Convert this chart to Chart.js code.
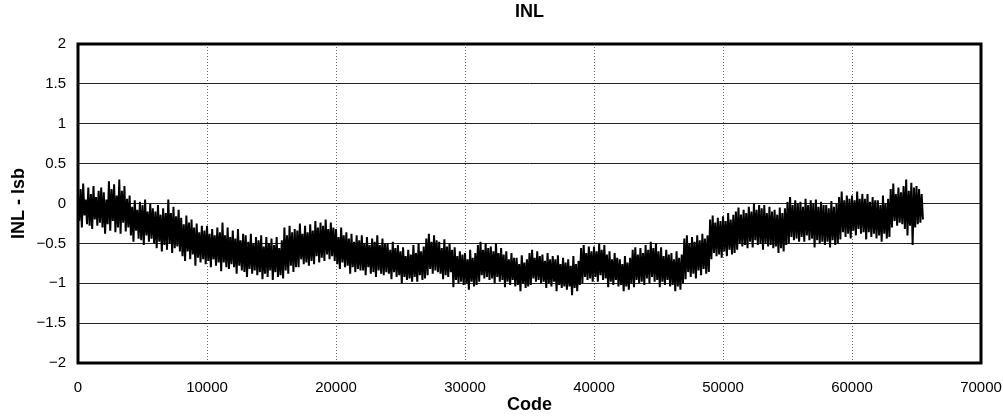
<!DOCTYPE html>
<html>
<head>
<meta charset="utf-8">
<script src="https://cdn.jsdelivr.net/npm/chart.js@4"></script>
<style>
html,body{margin:0;padding:0;background:#fff;}
#wrap{width:1003px;height:420px;}
</style>
</head>
<body>
<div id="wrap"><canvas id="c" width="1003" height="420"></canvas></div>
<script>
// Chart texts
const chartTitle = "INL";
const xAxisTitle = "Code";
const yAxisTitle = "INL - lsb";

// Axis ranges / ticks
const xTicks = [0, 10000, 20000, 30000, 40000, 50000, 60000, 70000];
const yTicks = [-2, -1.5, -1, -0.5, 0, 0.5, 1, 1.5, 2];

// Sample spacing of the INL trace (codes between successive samples)
const codeStep = 100;

// INL values (lsb), one every codeStep codes starting at code 0
const inlValues = [
  0.10,-0.22,0.18,-0.30,0.25,-0.15,0.05,-0.26,0.20,-0.28,
  0.12,-0.32,0.22,-0.20,0.08,-0.28,0.16,-0.24,0.20,-0.30,
  0.14,-0.38,0.05,-0.26,0.28,-0.34,0.18,-0.22,0.24,-0.36,
  0.10,-0.30,0.30,-0.38,0.16,-0.24,0.22,-0.35,0.06,-0.30,
  0.10,-0.40,-0.04,-0.48,0.04,-0.34,-0.08,-0.44,0.02,-0.46,
  -0.02,-0.52,0.05,-0.40,-0.10,-0.48,0.00,-0.44,-0.06,-0.50,
  -0.10,-0.56,-0.02,-0.48,-0.14,-0.60,-0.06,-0.52,-0.12,-0.58,
  0.05,-0.50,-0.12,-0.62,-0.04,-0.56,-0.16,-0.54,-0.08,-0.60,
  -0.18,-0.66,-0.26,-0.72,-0.15,-0.60,-0.24,-0.70,-0.20,-0.64,
  -0.30,-0.78,-0.25,-0.68,-0.36,-0.74,-0.28,-0.70,-0.34,-0.76,
  -0.28,-0.72,-0.38,-0.80,-0.32,-0.70,-0.40,-0.78,-0.30,-0.74,
  -0.36,-0.85,-0.24,-0.74,-0.40,-0.80,-0.30,-0.82,-0.42,-0.76,
  -0.34,-0.80,-0.44,-0.88,-0.32,-0.78,-0.46,-0.84,-0.38,-0.86,
  -0.40,-0.92,-0.48,-0.82,-0.38,-0.88,-0.50,-0.84,-0.42,-0.90,
  -0.46,-0.86,-0.40,-0.95,-0.54,-0.88,-0.42,-0.92,-0.50,-0.84,
  -0.44,-0.96,-0.52,-0.86,-0.42,-0.92,-0.56,-0.90,-0.46,-0.94,
  -0.30,-0.84,-0.40,-0.88,-0.28,-0.78,-0.36,-0.86,-0.32,-0.80,
  -0.34,-0.80,-0.25,-0.70,-0.38,-0.76,-0.28,-0.74,-0.36,-0.78,
  -0.26,-0.72,-0.34,-0.76,-0.22,-0.66,-0.30,-0.74,-0.24,-0.68,
  -0.28,-0.72,-0.20,-0.64,-0.32,-0.70,-0.24,-0.66,-0.30,-0.72,
  -0.32,-0.76,-0.42,-0.82,-0.30,-0.74,-0.40,-0.80,-0.36,-0.78,
  -0.44,-0.88,-0.38,-0.80,-0.48,-0.86,-0.40,-0.82,-0.46,-0.84,
  -0.40,-0.84,-0.50,-0.90,-0.42,-0.80,-0.52,-0.88,-0.44,-0.86,
  -0.48,-0.92,-0.40,-0.84,-0.52,-0.88,-0.44,-0.90,-0.50,-0.86,
  -0.50,-0.88,-0.58,-0.95,-0.48,-0.86,-0.56,-0.92,-0.52,-0.90,
  -0.60,-1.00,-0.55,-0.92,-0.66,-0.96,-0.58,-0.94,-0.64,-0.98,
  -0.52,-0.92,-0.62,-0.98,-0.50,-0.90,-0.60,-0.96,-0.54,-0.94,
  -0.44,-0.90,-0.38,-0.82,-0.48,-0.88,-0.40,-0.84,-0.46,-0.86,
  -0.48,-0.88,-0.56,-0.95,-0.45,-0.90,-0.54,-0.92,-0.50,-0.86,
  -0.58,-1.05,-0.55,-0.96,-0.66,-1.00,-0.60,-0.98,-0.64,-1.02,
  -0.62,-1.00,-0.70,-1.08,-0.58,-0.98,-0.68,-1.04,-0.62,-1.02,
  -0.52,-0.98,-0.48,-0.90,-0.58,-0.94,-0.50,-0.92,-0.56,-0.96,
  -0.54,-0.94,-0.60,-1.00,-0.50,-0.92,-0.62,-0.98,-0.56,-0.96,
  -0.64,-1.05,-0.60,-0.98,-0.70,-1.02,-0.62,-0.96,-0.68,-1.04,
  -0.68,-1.02,-0.76,-1.10,-0.65,-1.00,-0.74,-1.06,-0.70,-1.04,
  -0.62,-1.02,-0.58,-0.94,-0.68,-0.98,-0.60,-0.96,-0.66,-1.00,
  -0.64,-0.98,-0.72,-1.06,-0.62,-1.00,-0.70,-1.04,-0.66,-0.98,
  -0.70,-1.10,-0.65,-1.02,-0.76,-1.06,-0.68,-1.04,-0.74,-1.08,
  -0.70,-1.04,-0.78,-1.15,-0.66,-1.06,-0.76,-1.10,-0.72,-1.02,
  -0.56,-1.00,-0.52,-0.92,-0.62,-0.96,-0.54,-0.94,-0.60,-0.98,
  -0.54,-0.92,-0.60,-0.98,-0.50,-0.90,-0.58,-0.96,-0.52,-0.94,
  -0.64,-1.05,-0.60,-0.98,-0.70,-1.02,-0.62,-0.96,-0.68,-1.04,
  -0.70,-1.02,-0.76,-1.10,-0.66,-1.04,-0.74,-1.08,-0.68,-1.00,
  -0.58,-1.05,-0.55,-0.96,-0.64,-1.00,-0.56,-0.98,-0.62,-1.02,
  -0.52,-0.94,-0.58,-1.00,-0.48,-0.92,-0.56,-0.98,-0.50,-0.96,
  -0.60,-1.05,-0.55,-0.98,-0.66,-1.02,-0.58,-0.96,-0.64,-1.04,
  -0.62,-1.02,-0.70,-1.10,-0.60,-1.04,-0.68,-1.08,-0.64,-1.00,
  -0.44,-0.95,-0.40,-0.86,-0.50,-0.92,-0.42,-0.88,-0.48,-0.94,
  -0.40,-0.84,-0.46,-0.90,-0.38,-0.82,-0.44,-0.88,-0.40,-0.86,
  -0.20,-0.70,-0.15,-0.62,-0.24,-0.66,-0.18,-0.64,-0.22,-0.68,
  -0.16,-0.60,-0.22,-0.66,-0.12,-0.58,-0.20,-0.64,-0.14,-0.62,
  -0.10,-0.58,-0.05,-0.50,-0.14,-0.54,-0.08,-0.52,-0.12,-0.56,
  -0.04,-0.48,-0.10,-0.55,0.00,-0.46,-0.08,-0.52,-0.02,-0.50,
  -0.06,-0.58,-0.02,-0.50,-0.12,-0.54,-0.04,-0.52,-0.10,-0.56,
  -0.08,-0.54,-0.14,-0.62,-0.05,-0.56,-0.12,-0.60,-0.06,-0.52,
  0.02,-0.50,0.08,-0.42,-0.02,-0.46,0.04,-0.44,0.00,-0.48,
  0.02,-0.42,-0.04,-0.48,0.06,-0.40,-0.02,-0.46,0.04,-0.44,
  0.00,-0.55,0.05,-0.46,-0.04,-0.50,0.02,-0.48,-0.02,-0.52,
  -0.02,-0.48,-0.06,-0.55,0.03,-0.46,-0.04,-0.52,0.00,-0.50,
  0.08,-0.45,0.15,-0.36,0.04,-0.42,0.10,-0.38,0.06,-0.44,
  0.10,-0.34,0.04,-0.40,0.15,-0.32,0.06,-0.38,0.12,-0.36,
  0.06,-0.45,0.12,-0.36,0.02,-0.42,0.08,-0.38,0.04,-0.44,
  0.04,-0.40,-0.02,-0.48,0.10,-0.38,0.00,-0.44,0.06,-0.42,
  0.18,-0.30,0.25,-0.22,0.12,-0.28,0.20,-0.24,0.14,-0.26,
  0.22,-0.32,0.30,-0.40,0.16,-0.28,0.26,-0.52,0.20,-0.30,
  0.22,-0.26,0.18,-0.24,0.12,-0.20
];

const points = inlValues.map((v, i) => ({ x: i * codeStep, y: v }));

const fontFamily = "'Liberation Sans', Arial, Helvetica, sans-serif";
const fmtY = v => (v < 0 ? "\u2212" + String(Math.abs(v)) : String(v));

const frame = {
  id: "frame",
  afterDatasetsDraw(chart) {
    const a = chart.chartArea, ctx = chart.ctx;
    ctx.save();
    ctx.strokeStyle = "#000";
    ctx.lineWidth = 3;
    ctx.strokeRect(a.left, a.top, a.right - a.left, a.bottom - a.top);
    ctx.restore();
  }
};

new Chart(document.getElementById("c"), {
  type: "line",
  data: {
    datasets: [{
      data: points,
      borderColor: "#000",
      borderWidth: 2,
      pointRadius: 0,
      tension: 0,
      fill: false
    }]
  },
  options: {
    responsive: false,
    animation: false,
    parsing: false,
    normalized: true,
    layout: { padding: { left: 0, right: 0, top: 0, bottom: 0 } },
    plugins: {
      legend: { display: false },
      tooltip: { enabled: false },
      title: {
        display: true,
        fullSize: false,
        text: chartTitle,
        color: "#000",
        font: { family: fontFamily, size: 18, weight: "bold" },
        padding: { top: 1, bottom: 21.4 }
      }
    },
    scales: {
      x: {
        type: "linear",
        min: xTicks[0],
        max: xTicks[xTicks.length - 1],
        afterBuildTicks: s => { s.ticks = xTicks.map(v => ({ value: v })); },
        afterFit: s => { s.height = 57; s.paddingRight = 22; },
        ticks: {
          color: "#000",
          font: { family: fontFamily, size: 15 },
          padding: 16,
          maxRotation: 0,
          autoSkip: false,
          callback: v => String(v)
        },
        grid: {
          color: ctx => (ctx.tick && (ctx.tick.value === xTicks[0] || ctx.tick.value === xTicks[xTicks.length - 1])) ? "rgba(0,0,0,0)" : "#666",
          lineWidth: 1,
          drawTicks: false
        },
        border: { display: false, dash: [1, 2] },
        title: {
          display: true,
          text: xAxisTitle,
          color: "#000",
          font: { family: fontFamily, size: 18, weight: "bold" },
          padding: { top: 0, bottom: 4 }
        }
      },
      y: {
        type: "linear",
        min: yTicks[0],
        max: yTicks[yTicks.length - 1],
        afterBuildTicks: s => { s.ticks = yTicks.map(v => ({ value: v })); },
        afterFit: s => { s.width = 78; },
        ticks: {
          color: "#000",
          font: { family: fontFamily, size: 15 },
          padding: 12,
          autoSkip: false,
          callback: v => fmtY(v)
        },
        grid: {
          color: ctx => (ctx.tick && (ctx.tick.value === yTicks[0] || ctx.tick.value === yTicks[yTicks.length - 1])) ? "rgba(0,0,0,0)" : "#222",
          lineWidth: 1,
          drawTicks: false
        },
        border: { display: false },
        title: {
          display: true,
          text: yAxisTitle,
          color: "#000",
          font: { family: fontFamily, size: 18, weight: "bold" },
          padding: { top: 8, bottom: 0 }
        }
      }
    }
  },
  plugins: [frame]
});
</script>
</body>
</html>
